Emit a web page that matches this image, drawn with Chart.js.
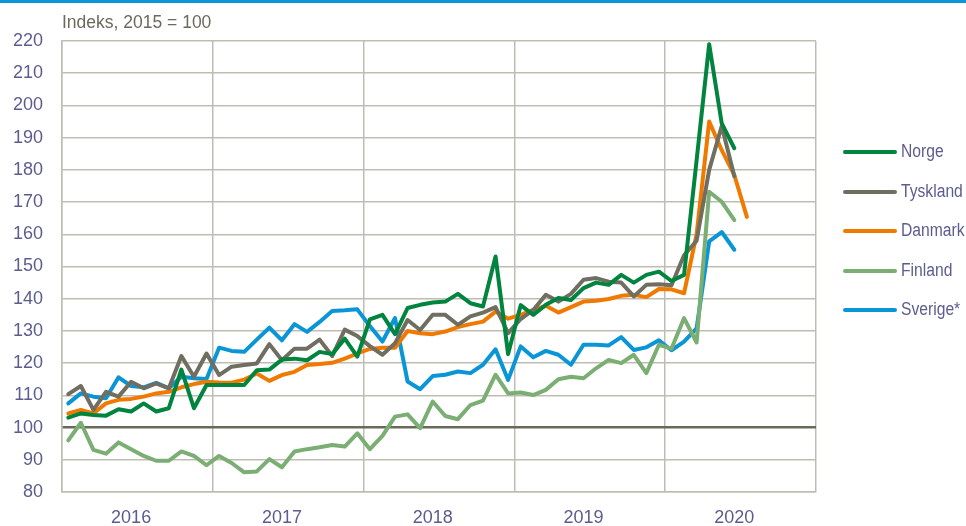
<!DOCTYPE html>
<html>
<head>
<meta charset="utf-8">
<script src="https://cdn.jsdelivr.net/npm/chart.js@4.4.0/dist/chart.umd.min.js"></script>
<style>
  body { margin: 0; background: #fff; font-family: "Liberation Sans", Arial, sans-serif; }
  #wrap { position: relative; width: 966px; height: 526px; overflow: hidden; }
  #topline { position: absolute; left: 0; top: 0; width: 966px; height: 3px; background: #0a96d6; }
  #tittel { position: absolute; left: 62px; top: 12px; font-size: 17.5px; color: #6b6a5c; }
  #legende { position: absolute; left: 843px; top: 0; }
  .rad { position: absolute; left: 0; width: 130px; height: 20px; }
  .strek { position: absolute; left: 0; top: 8px; width: 54px; height: 4px; border-radius: 2px; }
  .navn { position: absolute; left: 58px; top: -1px; font-size: 18px; color: #5c5c8e; white-space: nowrap;
          transform: scaleX(0.87); transform-origin: left center; }
  canvas { position: absolute; left: 0; top: 0; }
</style>
</head>
<body>
<div id="wrap">
  <div id="topline"></div>
  <canvas id="graf" width="966" height="526"></canvas>
  <div id="tittel">Indeks, 2015 = 100</div>
  <div id="legende"></div>
</div>
<script>
// ===== DATA : indeks per måned, jan 2016 - des 2020 =====
var aar = ['2016', '2017', '2018', '2019', '2020'];

var maaneder = [];
for (var a = 0; a < aar.length; a++) {
    for (var m = 1; m <= 12; m++) {
        maaneder.push(aar[a] + '-' + (m < 10 ? '0' + m : m));
    }
}

var norge = [103.1, 104.4, 103.9, 103.7, 105.7, 105, 107.5, 105, 106, 118, 106, 113.2,
    113.2, 113.2, 113.2, 117.8, 118, 121.1, 121.4, 120.9, 123.5, 122.8, 127.6, 122,
    133.6, 135, 129, 137.1, 138.1, 138.8, 139.1, 141.5, 138.6, 137.6, 153.1, 122.8,
    138, 135, 138.1, 140.2, 139.6, 143.3, 145, 144.3, 147.4, 145, 147.4, 148.4,
    145.5, 147.4, 183, 219, 194.4, 186.7];

var tyskland = [110.4, 112.9, 105.5, 111.1, 109.6, 114.2, 112.2, 113.7, 112.2, 122.2, 115.8, 123,
    116.3, 118.9, 119.4, 119.9, 125.9, 120.9, 124.5, 124.5, 127.3, 122.2, 130.4, 128.4,
    125.3, 122.6, 126.2, 133.4, 130.3, 135, 135, 131.9, 134.5, 135.7, 137.4, 129.3,
    133.7, 136.5, 141.2, 139.1, 141.5, 145.9, 146.4, 145.3, 145, 140.7, 144.3, 144.5,
    144.2, 153.5, 158, 180, 193.6, 178];

var danmark = [104.4, 105.5, 104.4, 107.5, 108.6, 108.9, 109.6, 110.6, 111.1, 112.5, 113.5, 114.2,
    114, 113.9, 114.9, 116.8, 114.5, 116.3, 117.3, 119.4, 119.7, 120.1, 121.4, 123,
    124.4, 124.8, 124.8, 130, 129.3, 129, 129.8, 131.2, 132.1, 132.9, 136, 133.8,
    135, 136.5, 137.8, 135.7, 137.4, 139.1, 139.4, 139.9, 140.9, 141.2, 140.5, 143,
    142.9, 141.7, 160, 195, 186.1, 178.4, 165.4];

var finland = [96, 101.5, 93.1, 91.9, 95.4, 93.3, 91.2, 89.7, 89.7, 92.6, 91.2, 88.3,
    91.2, 89, 86.1, 86.4, 90.2, 87.7, 92.6, 93.3, 93.9, 94.6, 94.1, 98.2,
    93.3, 97.4, 103.4, 104.1, 99.8, 108.1, 103.6, 102.6, 107, 108.4, 116.4, 110.6,
    110.9, 110.1, 111.7, 115, 115.8, 115.3, 118.4, 121, 120, 122.6, 116.9, 125.7,
    124.5, 134, 126.4, 173.2, 170.1, 164.4];

var sverige = [107.5, 110.6, 109.6, 109.1, 115.6, 112.9, 112.5, 113.9, 112.2, 115.8, 115.3, 115.1,
    124.8, 123.8, 123.5, 127.3, 131, 127.1, 132.1, 129.7, 132.8, 136.2, 136.4, 136.7,
    131.5, 126.7, 134, 114.3, 111.9, 116, 116.4, 117.4, 116.9, 119.5, 124.3, 114.8,
    125.2, 121.8, 123.8, 122.6, 119.5, 125.7, 125.7, 125.5, 128.1, 124.1, 124.9, 127.1,
    124, 126.7, 130.8, 157.8, 160.7, 155.2];

var serier = [
    { navn: 'Norge',    data: norge,    farge: '#00843e' },
    { navn: 'Tyskland', data: tyskland, farge: '#6f6e60' },
    { navn: 'Danmark',  data: danmark,  farge: '#f07a00' },
    { navn: 'Finland',  data: finland,  farge: '#7aae73' },
    { navn: 'Sverige*', data: sverige,  farge: '#0a96d6' }
];

var gridFarge = '#bfbdb1';
var tekstFarge = '#5c5c8e';

// ===== LEGENDE (HTML) =====
var legende = document.getElementById('legende');
serier.forEach(function (s, i) {
    var rad = document.createElement('div');
    rad.className = 'rad';
    rad.style.top = (142 + i * 39.5) + 'px';
    rad.innerHTML = '<div class="strek" style="background:' + s.farge + '"></div>' +
                    '<div class="navn">' + s.navn + '</div>';
    legende.appendChild(rad);
});

// ===== GRAF =====
new Chart(document.getElementById('graf'), {
    type: 'line',
    data: {
        labels: maaneder,
        datasets: serier.map(function (s) {
            return {
                label: s.navn,
                data: s.data,
                borderColor: s.farge,
                backgroundColor: s.farge,
                borderWidth: 4,
                pointRadius: 0,
                tension: 0,
                borderJoinStyle: 'round',
                borderCapStyle: 'round'
            };
        })
    },
    options: {
        responsive: false,
        animation: false,
        layout: { padding: { left: 0, right: 150, top: 41, bottom: 0 } },
        plugins: { legend: { display: false }, tooltip: { enabled: false } },
        scales: {
            x: {
                offset: true,
                grid: {
                    offset: true,
                    drawTicks: false,
                    lineWidth: 1.5,
                    color: function (ctx) {
                        if (ctx.index === undefined) return gridFarge;
                        return ctx.index % 12 === 0 ? gridFarge : 'rgba(0,0,0,0)';
                    }
                },
                border: { display: true, color: gridFarge, width: 1.5 },
                ticks: {
                    autoSkip: false,
                    maxRotation: 0,
                    padding: 15,
                    color: tekstFarge,
                    font: { family: '"Liberation Sans", Arial', size: 18 },
                    callback: function (v, i) {
                        return i % 12 === 5 ? aar[Math.floor(i / 12)] : '';
                    }
                },
                afterFit: function (s) { s.height = 34; }
            },
            y: {
                min: 80,
                max: 220,
                ticks: {
                    stepSize: 10,
                    padding: 19,
                    color: tekstFarge,
                    font: { family: '"Liberation Sans", Arial', size: 18 }
                },
                grid: {
                    drawTicks: false,
                    color: function (ctx) { return ctx.tick && ctx.tick.value === 100 ? '#6b6a5a' : gridFarge; },
                    lineWidth: function (ctx) { return ctx.tick && ctx.tick.value === 100 ? 2.5 : 1.5; }
                },
                border: { display: true, color: gridFarge, width: 1.5 },
                afterFit: function (s) { s.width = 62; }
            }
        }
    }
});
</script>
</body>
</html>
